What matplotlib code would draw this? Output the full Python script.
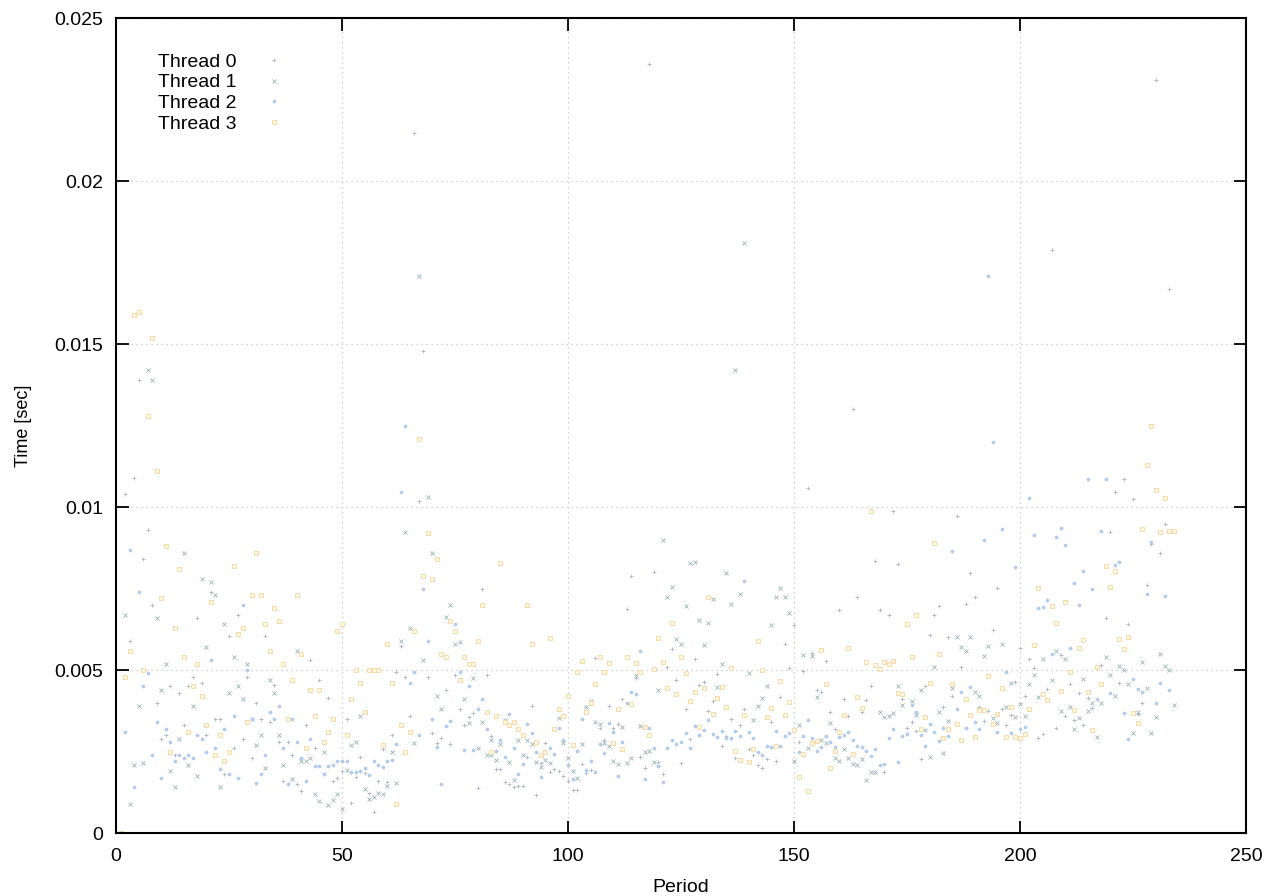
import numpy as np
import matplotlib
matplotlib.use("Agg")
import matplotlib.pyplot as plt
from matplotlib.ticker import FixedLocator, FixedFormatter

nan = float("nan")

# ---------------- data (values in milliseconds, converted to seconds below) ----------------
thread_labels = ["Thread 0", "Thread 1", "Thread 2", "Thread 3"]

thread0_ms = [
    0.0, 10.4, 5.9, 10.9, 13.9, 8.4, 9.3, 7.0, 4.0, 2.9,
    3.0, 4.5, 2.4, 4.3, 3.3, 4.5, 4.8, 6.6, 4.6, 3.0,
    7.4, 3.5, 3.5, 1.8, 6.06, 2.6, 6.7, 2.9, 4.8, 2.3,
    4.0, 3.5, 6.06, 3.4, 4.55, 2.8, 1.6, 2.8, 2.4, 1.5,
    1.3, 3.3, 5.3, 2.6, 4.7, 1.8, 4.15, 1.6, 1.7, 1.9,
    3.5, 0.92, 1.72, 2.33, 1.84, 1.23, 0.64, 1.6, 2.58, 1.57,
    3.0, 4.95, 5.75, 4.8, 3.6, 21.5, 10.2, 14.8, 4.8, 3.07,
    2.77, 2.92, 4.4, 2.73, 4.86, 3.8, 3.3, 3.57, 3.69, 1.38,
    7.5, 4.86, 2.98, 1.97, 1.97, 1.56, 1.5, 1.41, 1.44, 1.44,
    2.33, 3.9, 1.16, 2.15, 2.77, 1.87, 1.97, 1.9, 1.75, 1.6,
    1.32, 1.32, 2.12, 1.84, 1.93, 5.38, 3.23, 2.86, 3.9, 3.23,
    3.35, 4.12, 6.89, 7.88, 4.77, 2.34, 1.99, 23.6, 8.0, 2.18,
    1.81, 5.1, 5.66, 4.7, 2.15, 3.81, 2.89, 5.35, 4.55, 4.64,
    3.75, 4.06, 4.89, 2.67, 2.98, 3.5, 2.3, 3.3, 3.81, 2.58,
    2.4, 2.09, 2.0, 2.27, 3.4, 2.21, 4.18, 5.81, 5.07, 6.37,
    2.8, 4.98, 10.6, 5.54, 4.4, 4.34, 5.29, 3.72, 3.2, 6.83,
    4.12, 3.6, 13.0, 7.23, 3.72, 4.09, 4.52, 8.34, 6.86, 1.87,
    6.68, 9.88, 8.25, 4.12, 3.23, 3.4, 3.13, 2.27, 4.52, 6.09,
    6.68, 6.98, 3.87, 6.03, 4.21, 9.72, 5.1, 7.04, 7.97, 7.23,
    3.87, 3.44, 3.75, 6.24, 7.51, 3.81, 3.3, 3.63, 4.64, 5.69,
    4.2, 5.35, 5.07, 2.92, 3.04, 4.43, 17.9, 3.23, 5.47, 3.6,
    4.58, 3.47, 4.3, 3.32, 4.15, 3.84, 5.1, 5.17, 6.61, 9.23,
    10.46, 4.6, 10.86, 6.4, 10.25, 3.66, 4.0, 7.6, 8.86, 23.1,
    8.6, 9.48, 16.7, nan,
]

thread1_ms = [
    0.0, 6.7, 0.9, 2.1, 3.9, 2.15, 14.2, 13.9, 6.6, 4.4,
    5.2, 1.9, 1.4, 2.9, 8.6, 2.1, 3.9, 1.75, 7.8, 5.7,
    7.7, 7.3, 1.4, 6.4, 4.3, 5.4, 4.5, 4.1, 5.2, 3.5,
    2.7, 3.0, 2.0, 4.7, 4.3, 3.0, 2.1, 3.5, 1.65, 5.6,
    2.2, 2.2, 2.3, 1.2, 0.98, 2.5, 0.86, 1.0, 1.2, 0.73,
    1.94, 2.7, 2.8, 3.6, 1.35, 1.04, 1.1, 1.23, 1.2, 1.44,
    2.49, 1.53, 5.9, 9.23, 6.3, 2.77, 17.1, 5.3, 10.3, 8.6,
    4.2, 3.8, 6.64, 7.0, 5.8, 5.85, 4.1, 3.38, 4.77, 2.61,
    3.41, 2.4, 2.86, 2.24, 2.73, 3.47, 2.18, 1.63, 2.86, 2.4,
    2.86, 2.73, 2.18, 2.03, 2.24, 2.15, 3.2, 3.54, 2.77, 2.3,
    1.9, 1.69, 2.73, 3.87, 4.06, 3.41, 3.35, 2.77, 2.67, 2.21,
    2.12, 3.26, 2.15, 2.3, 4.86, 3.29, 2.49, 2.52, 2.18, 4.4,
    8.98, 7.23, 7.54, 5.94, 5.81, 6.98, 8.28, 8.31, 6.55, 5.78,
    6.46, 7.17, 4.49, 5.2, 7.97, 7.04, 14.2, 7.35, 18.1, 4.92,
    3.47, 3.9, 4.15, 4.52, 6.37, 7.23, 7.51, 7.23, 6.74, 2.21,
    3.3, 5.47, 2.6, 5.44, 4.18, 2.86, 2.77, 3.38, 2.3, 2.2,
    2.58, 2.3, 2.12, 2.09, 2.27, 1.63, 1.87, 1.87, 3.72, 3.57,
    3.6, 3.69, 4.52, 3.94, 6.4, 4.06, 3.63, 4.4, 3.17, 2.33,
    5.1, 3.72, 2.46, 3.44, 4.46, 6.03, 5.72, 5.6, 6.03, 4.34,
    4.21, 5.44, 5.75, 3.53, 3.38, 5.81, 3.87, 4.61, 3.57, 3.97,
    3.6, 4.58, 4.86, 4.18, 5.35, 4.09, 4.7, 5.6, 3.75, 5.35,
    3.87, 3.2, 3.53, 4.74, 3.75, 3.99, 2.95, 4.0, 5.41, 4.86,
    4.21, 5.14, 5.01, 4.58, 3.07, 3.72, 5.26, 4.46, 3.07, 3.57,
    5.5, 5.14, 5.01, 3.94,
]

thread2_ms = [
    0.0, 3.1, 8.7, 1.4, 7.4, 4.5, 4.9, 2.4, 3.4, 1.7,
    3.2, 2.8, 2.2, 2.4, 2.3, 2.4, 2.3, 3.0, 2.9, 2.5,
    5.3, 2.6, 1.96, 3.2, 1.8, 3.6, 1.7, 7.0, 5.0, 3.5,
    1.55, 1.8, 2.4, 3.7, 3.5, 3.9, 2.6, 1.5, 3.5, 2.8,
    2.3, 1.6, 2.9, 2.06, 2.06, 1.8, 2.06, 2.1, 2.2, 2.2,
    2.21, 1.87, 1.87, 1.9, 2.0, 1.78, 2.21, 2.09, 2.03, 2.21,
    2.24, 2.73, 10.46, 12.5, 4.6, 4.95, 3.0, 7.5, 5.9, 3.5,
    2.64, 1.5, 3.29, 3.44, 6.4, 4.95, 2.55, 4.5, 2.55, 3.8,
    4.1, 3.2, 2.4, 2.52, 2.86, 2.33, 3.66, 2.61, 1.81, 2.12,
    3.35, 3.07, 2.49, 1.72, 2.52, 2.61, 2.43, 3.23, 2.86, 2.09,
    1.66, 2.52, 3.5, 1.93, 2.21, 1.87, 2.73, 2.46, 3.38, 3.1,
    1.75, 2.8, 3.99, 4.34, 4.27, 5.6, 1.66, 3.23, 2.61, 2.06,
    1.56, 2.61, 2.86, 2.73, 2.8, 3.07, 2.61, 3.29, 3.0, 3.17,
    3.47, 3.04, 2.95, 3.13, 2.92, 2.92, 3.13, 2.98, 7.75, 3.1,
    2.92, 2.5, 2.4, 2.67, 2.64, 3.13, 2.67, 2.98, 3.07, 3.13,
    2.5, 2.98, 3.47, 2.92, 2.52, 2.64, 2.98, 2.8, 2.64, 2.95,
    3.01, 3.1, 2.86, 2.67, 2.64, 2.52, 2.37, 2.58, 2.09, 2.12,
    2.92, 3.2, 2.18, 2.98, 3.04, 3.94, 3.72, 3.01, 2.67, 3.35,
    3.1, 2.83, 3.23, 2.98, 8.65, 3.81, 4.34, 3.23, 4.49, 3.4,
    3.2, 8.98, 17.1, 12.0, 3.1, 9.32, 4.95, 3.07, 8.15, 3.2,
    3.26, 10.28, 9.14, 6.92, 6.95, 7.14, 5.5, 9.08, 9.35, 8.83,
    5.69, 7.66, 7.01, 8.03, 10.86, 7.48, 4.12, 9.26, 10.86, 4.3,
    8.22, 8.31, 3.69, 2.89, 4.74, 4.43, 4.34, 7.35, 8.92, 4.0,
    4.6, 7.26, 4.4, nan,
]

thread3_ms = [
    0.0, 4.8, 5.6, 15.9, 16.0, 5.0, 12.8, 15.2, 11.1, 7.2,
    8.8, 2.5, 6.3, 8.1, 5.4, 3.1, 4.5, 5.2, 4.2, 3.3,
    7.1, 2.4, 3.0, 2.2, 2.5, 8.2, 6.1, 6.3, 3.4, 7.3,
    8.6, 7.3, 6.4, 5.6, 6.9, 6.5, 5.2, 3.5, 4.7, 7.3,
    5.5, 2.6, 4.4, 3.6, 4.4, 2.8, 3.1, 3.5, 6.2, 6.4,
    3.0, 4.1, 5.0, 4.6, 3.7, 5.0, 5.0, 5.0, 2.7, 5.8,
    4.6, 0.9, 3.3, 2.5, 3.1, 6.2, 12.1, 7.9, 9.2, 7.8,
    8.4, 5.5, 5.4, 6.5, 6.2, 4.7, 5.4, 5.2, 5.2, 5.9,
    7.0, 3.7, 2.5, 3.6, 8.3, 3.4, 3.3, 3.4, 3.2, 3.0,
    7.0, 5.8, 2.8, 2.4, 2.5, 6.0, 3.2, 3.8, 3.6, 4.2,
    2.7, 4.93, 5.29, 3.72, 3.99, 4.58, 5.41, 4.93, 5.22, 2.76,
    3.81, 2.58, 5.41, 3.96, 5.22, 4.95, 3.25, 3.0, 5.04, 5.99,
    5.26, 4.46, 6.46, 4.27, 5.41, 4.92, 4.05, 4.33, 3.25, 4.46,
    7.23, 3.65, 4.15, 4.49, 3.87, 5.07, 2.52, 2.24, 3.62, 2.18,
    2.58, 5.90, 5.01, 3.56, 3.84, 2.67, 4.67, 3.62, 4.02, 3.16,
    1.71, 2.42, 1.28, 2.76, 2.82, 5.62, 4.58, 1.99, 2.52, 3.10,
    3.62, 5.69, 2.42, 4.18, 3.84, 5.26, 9.87, 5.16, 5.04, 5.26,
    5.19, 5.29, 4.30, 4.27, 6.41, 5.41, 6.70, 3.19, 3.56, 4.61,
    8.89, 5.50, 2.92, 3.19, 4.58, 3.35, 2.85, 4.12, 3.62, 2.95,
    3.78, 3.78, 4.82, 3.35, 3.65, 4.46, 2.96, 3.87, 2.96, 2.92,
    3.04, 3.81, 5.78, 7.53, 4.27, 4.09, 6.98, 6.46, 4.36, 7.10,
    4.95, 3.78, 5.69, 5.93, 4.33, 3.16, 5.10, 4.58, 8.18, 7.56,
    8.03, 5.96, 5.66, 6.03, 3.69, 3.38, 9.32, 11.3, 12.5, 10.52,
    9.23, 10.27, 9.26, 9.26,
]

periods = list(range(1, len(thread3_ms) + 1))

x_ticks = [0, 50, 100, 150, 200, 250]
x_tick_labels = ["0", "50", "100", "150", "200", "250"]
y_ticks = [0.0, 0.005, 0.01, 0.015, 0.02, 0.025]
y_tick_labels = ["0", "0.005", "0.01", "0.015", "0.02", "0.025"]

# ---------------- style ----------------
FONT = ["Liberation Sans", "DejaVu Sans"]
plt.rcParams["font.family"] = FONT

series = [thread0_ms, thread1_ms, thread2_ms, thread3_ms]
markers = ["+", "x", (8, 2, 0), "s"]
colors = ["#a7b0bf", "#8fadb0", "#b4cdef", "#f9dba6"]
sizes = [3.0, 2.4, 2.6, 2.6]

fig = plt.figure(figsize=(12.8, 8.96), dpi=100)
W, H = 1280.0, 896.0
ax = fig.add_axes([116 / W, (H - 833) / H, (1246 - 116) / W, (833 - 18.5) / H])

for vals, lab, mk, col, ms in zip(series, thread_labels, markers, colors, sizes):
    y = np.array(vals, dtype=float) / 1000.0
    if mk == "s":
        ax.plot(periods, y, linestyle="none", marker=mk, markersize=ms,
                markerfacecolor="#fff6e6", markeredgecolor=col,
                markeredgewidth=0.7, label=lab)
    else:
        ax.plot(periods, y, linestyle="none", marker=mk, markersize=ms,
                color=col, markeredgewidth=0.55, label=lab)

ax.set_xlim(0, 250)
ax.set_ylim(0, 0.025)
ax.xaxis.set_major_locator(FixedLocator(x_ticks))
ax.xaxis.set_major_formatter(FixedFormatter(x_tick_labels))
ax.yaxis.set_major_locator(FixedLocator(y_ticks))
ax.yaxis.set_major_formatter(FixedFormatter(y_tick_labels))

ax.grid(True, color="#c4c4c4", linestyle=(0, (1, 3)), linewidth=0.9)
ax.set_axisbelow(True)

ax.tick_params(axis="both", which="major", direction="in", length=9, width=1.3,
               top=True, right=True, labelsize=14, colors="black")
ax.tick_params(axis="x", pad=11)
ax.tick_params(axis="y", pad=9)
for sp in ax.spines.values():
    sp.set_linewidth(1.5)
    sp.set_color("black")

ax.set_xlabel("Period", fontsize=14, labelpad=10)
ax.set_ylabel("Time [sec]", fontsize=13, labelpad=16)

leg = ax.legend(loc="upper left", bbox_to_anchor=(158 / W, (H - 53) / H),
                bbox_transform=fig.transFigure, frameon=False, markerfirst=False,
                fontsize=14, borderpad=0, borderaxespad=0, labelspacing=0.16,
                handletextpad=0.95, handlelength=2.0, markerscale=1.0)

fig.savefig("out.png", dpi=100)
